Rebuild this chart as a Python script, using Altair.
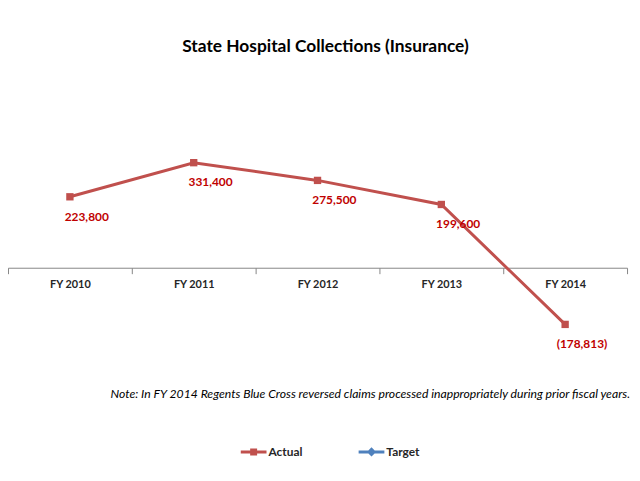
import altair as alt
import pandas as pd

years = ["FY 2010", "FY 2011", "FY 2012", "FY 2013", "FY 2014"]
actual = [223800, 331400, 275500, 199600, -178813]
series_names = ["Actual", "Target"]
series_colors = ["#C0504D", "#4F81BD"]
title_text = "State Hospital Collections (Insurance)"
note_text = "Note:  In FY 2014 Regents Blue Cross reversed  claims processed  inappropriately during prior fiscal years."

FONT = "Lato"
W, H = 625, 192
YMIN, YMAX = -200000, 400000
ZERO_PX = H * YMAX / (YMAX - YMIN)


def fmt(v):
    return f"({abs(v):,})" if v < 0 else f"{v:,}"


df = pd.DataFrame({"year": years, "value": actual,
                   "label": [fmt(v) for v in actual]})
legend_df = pd.DataFrame({"series": series_names})
note_df = pd.DataFrame({"note": [note_text]})

xenc = alt.X("year:N", sort=years,
             scale=alt.Scale(type="band", domain=years, paddingInner=0, paddingOuter=0),
             axis=alt.Axis(title=None, offset=-(H - ZERO_PX), tickBand="extent",
                           labelAngle=0, domainColor="#868686", tickColor="#868686",
                           tickSize=6, labelFont=FONT, labelFontSize=11,
                           labelFontWeight="bold", labelColor="#262626",
                           labelPadding=5, grid=False))
yenc = alt.Y("value:Q", scale=alt.Scale(domain=[YMIN, YMAX], nice=False, zero=False),
             axis=None)

base = alt.Chart(df).encode(x=xenc, y=yenc)

line = base.mark_line(color=series_colors[0], strokeWidth=3)
pts = base.mark_point(shape="square", filled=True, size=55, color=series_colors[0], opacity=1)
labels = base.mark_text(font=FONT, fontSize=12, fontWeight="bold", color="#C00000",
                        dx=17, dy=20, baseline="middle").encode(text="label:N")

square_path = "M-1,-0.115H1V0.115H-1Z M-0.27,-0.27H0.27V0.27H-0.27Z"
diamond_path = "M-1,-0.115H1V0.115H-1Z M0,-0.36L0.36,0L0,0.36L-0.36,0Z"

legend_cfg = dict(title=None, orient="none", direction="horizontal",
                  legendX=235, legendY=301, padding=0,
                  symbolSize=676, symbolOpacity=1, symbolStrokeWidth=0,
                  labelFont=FONT, labelFontSize=12, labelFontWeight="bold",
                  labelColor="#262626", labelOffset=2, columnPadding=56)

leg = alt.Chart(legend_df).mark_point(filled=True, opacity=0, size=676).encode(
    x=alt.value(0), y=alt.value(0),
    color=alt.Color("series:N", scale=alt.Scale(domain=series_names, range=series_colors),
                    legend=alt.Legend(**legend_cfg)),
    shape=alt.Shape("series:N", scale=alt.Scale(domain=series_names,
                                                range=[square_path, diamond_path]),
                    legend=alt.Legend(**legend_cfg)),
)

note = alt.Chart(note_df).mark_text(font=FONT, fontSize=12.3, fontStyle="italic",
                                     color="#000000", align="right", baseline="middle").encode(
    x=alt.value(628), y=alt.value(256), text="note:N")

chart = alt.layer(line, pts, labels, leg, note).properties(
    width=W, height=H,
    title=alt.Title(title_text, font=FONT, fontSize=17.5, fontWeight="bold", color="#000000",
                    anchor="middle", offset=82, dx=8),
    autosize=alt.AutoSizeParams(type="none"),
    padding={"left": 0, "top": 132, "right": 5, "bottom": 140},
).configure(background="#FFFFFF").configure_view(stroke=None)

chart.save("out.html", embed_options={"renderer": "svg", "actions": False})
